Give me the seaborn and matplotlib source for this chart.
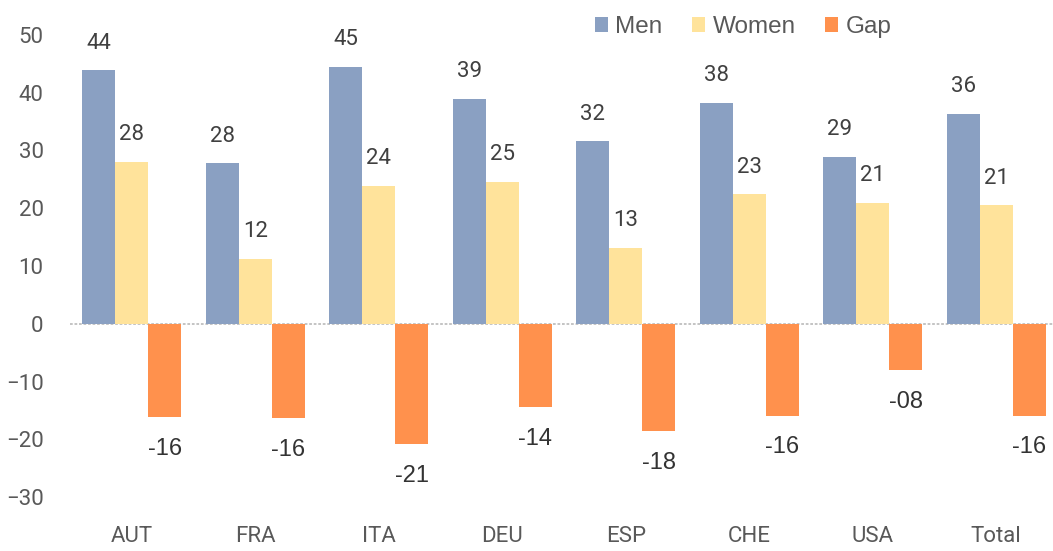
import matplotlib
matplotlib.use("Agg")
import matplotlib.pyplot as plt
from matplotlib import font_manager
import seaborn as sns
import pandas as pd

categories = ["AUT", "FRA", "ITA", "DEU", "ESP", "CHE", "USA", "Total"]
men = [43.9, 27.8, 44.5, 38.9, 31.6, 38.2, 28.9, 36.3]
women = [28.0, 11.2, 23.9, 24.6, 13.1, 22.4, 20.9, 20.5]
gap = [-16.1, -16.3, -20.8, -14.4, -18.6, -15.9, -8.0, -15.9]
men_labels = ["44", "28", "45", "39", "32", "38", "29", "36"]
women_labels = ["28", "12", "24", "25", "13", "23", "21", "21"]
gap_labels = ["-16", "-16", "-21", "-14", "-18", "-16", "-08", "-16"]
series = ["Men", "Women", "Gap"]
colors = ["#8AA0C2", "#FFE39B", "#FF914D"]

installed = {f.name for f in font_manager.fontManager.ttflist}
narrow = "Roboto" if "Roboto" in installed else "DejaVu Sans"
arial = "Liberation Sans" if "Liberation Sans" in installed else "DejaVu Sans"

sns.set_theme(style="white")
plt.rcParams["font.family"] = [narrow, "DejaVu Sans"]

df = pd.DataFrame({
    "Country": categories * 3,
    "Series": [s for s in series for _ in categories],
    "Value": men + women + gap,
})

fig = plt.figure(figsize=(10.53, 5.51), dpi=100)
ax = fig.add_axes([70 / 1053, 54 / 551, 988 / 1053, 462 / 551])

sns.barplot(data=df, x="Country", y="Value", hue="Series", hue_order=series,
            order=categories, palette=colors, width=0.8, gap=0, ax=ax,
            saturation=1, legend=True, edgecolor="none")

ax.set_xlim(-0.5, 7.5)
ax.set_ylim(-30, 50)
ax.set_yticks(range(-30, 51, 10))
ax.set_xlabel("")
ax.set_ylabel("")
for s in ax.spines.values():
    s.set_visible(False)
ax.axhline(0, color="#BFBFBF", lw=1.3, ls=(0, (1.5, 1)), zorder=0.5)
ax.tick_params(axis="y", length=0, pad=19, labelsize=16, labelcolor="#595959")
ax.tick_params(axis="x", length=0, pad=21, labelsize=16, labelcolor="#595959")

for cont, labs in zip(ax.containers, [men_labels, women_labels]):
    ax.bar_label(cont, labels=labs, padding=12, fontsize=16, color="#404040")
ax.bar_label(ax.containers[2], labels=gap_labels, padding=15, fontsize=17,
             color="#333333", family=arial)

leg = ax.legend(loc="center", bbox_to_anchor=(743 / 1053, 1 - 27 / 551),
                bbox_transform=fig.transFigure, ncol=3, frameon=False,
                handlelength=0.55, handleheight=0.55, handletextpad=0.3,
                columnspacing=1.2, prop={"family": arial, "size": 17.5})
for t in leg.get_texts():
    t.set_color("#595959")

fig.savefig("out.png", dpi=100)
